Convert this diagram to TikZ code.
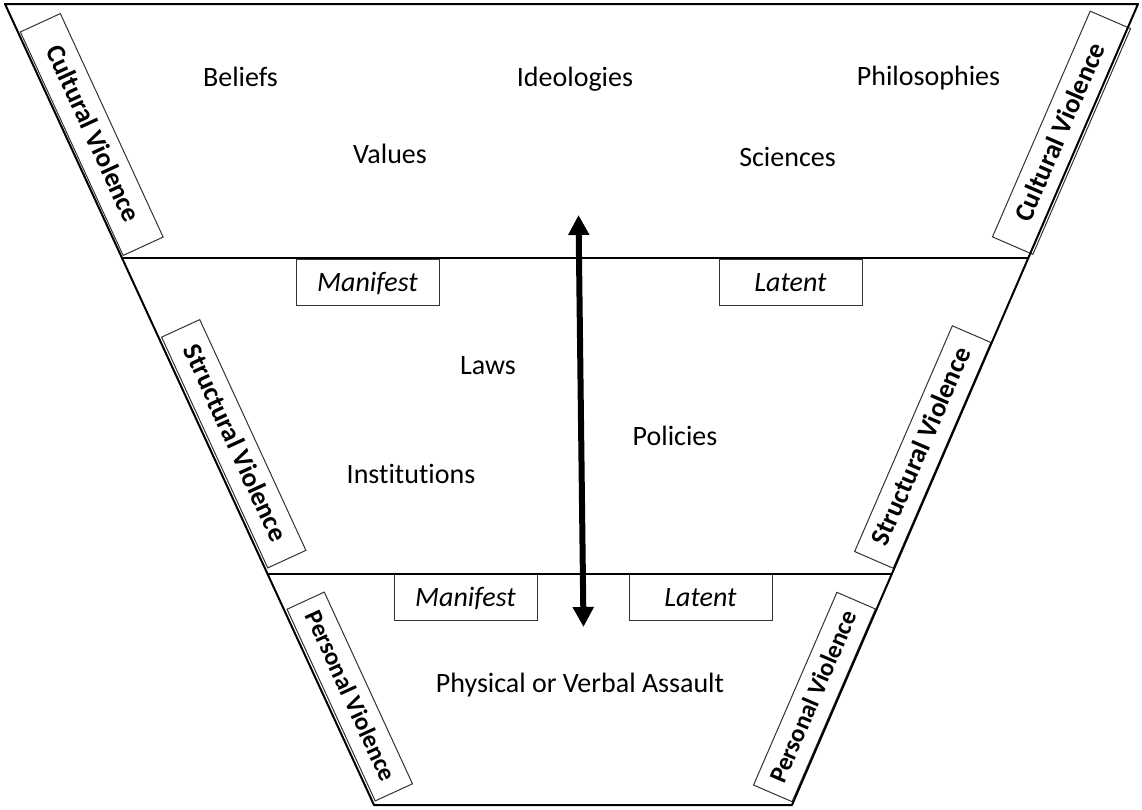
\documentclass[tikz,border=0pt]{standalone}
\usepackage{fontspec}
\setmainfont{Carlito}[Ligatures=NoCommon]
\usetikzlibrary{calc,arrows.meta}
\begin{document}
\begin{tikzpicture}[x=1pt,y=-1pt,
  word/.style={anchor=base,inner sep=0pt,font=\fontsize{28}{32}\selectfont},
  tag/.style={draw=black!80,line width=1pt,fill=white,minimum width=143pt,minimum height=46pt,
    inner sep=0pt,text height=19pt,text depth=0pt,font=\fontsize{28}{32}\selectfont\itshape},
  side/.style={draw=black!80,line width=1pt,fill=white,inner sep=0pt,text height=19pt,text depth=5pt},
  bigside/.style={side,font=\fontsize{27}{32}\selectfont\bfseries},
  smallside/.style={side,font=\fontsize{25}{30}\selectfont\bfseries},
  frame/.style={line width=2pt,line cap=round,line join=round}]
\useasboundingbox (0,0) rectangle (1142,809);
% corners of the funnel
\coordinate (TL) at (5,4);
\coordinate (TR) at (1138,4);
\coordinate (BR) at (792,805);
\coordinate (BL) at (374,805);
\coordinate (L1) at ($(TL)!0.3171!(BL)$);
\coordinate (R1) at ($(TR)!0.3171!(BR)$);
\coordinate (L2) at ($(TL)!0.7116!(BL)$);
\coordinate (R2) at ($(TR)!0.7116!(BR)$);
% side labels
\node[bigside,minimum width=246pt,minimum height=44pt,rotate=-65.3] (culL) at (91.75,134.5) {Cultural Violence};
\node[bigside,minimum width=246pt,minimum height=44pt,rotate=66.6] (culR) at (1061.5,132.75) {Cultural Violence};
\node[bigside,minimum width=254pt,minimum height=42pt,rotate=-65.3] (strL) at (233.75,443.75) {Structural Violence};
\node[bigside,minimum width=246pt,minimum height=42pt,rotate=66.6] (strR) at (922.75,447) {Structural Violence};
\node[smallside,minimum width=211pt,minimum height=41pt,rotate=-65.3] (perL) at (349.75,696.5) {Personal Violence};
\node[smallside,minimum width=210pt,minimum height=42pt,rotate=66.6] (perR) at (814.5,697) {Personal Violence};
% manifest / latent tags
\node[tag] (man1) at (367.5,282) {Manifest};
\node[tag] (lat1) at (790.5,282) {Latent};
\node[tag] (man2) at (465.5,597) {Manifest};
\node[tag] (lat2) at (700.5,597) {Latent};
% funnel outline and dividers
\draw[frame] (TL) -- (TR) -- (BR) -- (BL) -- cycle;
\draw[frame] (L1) -- (R1);
\draw[frame] (L2) -- (R2);
% words
\node[word] (beliefs) at (240.5,86) {Beliefs};
\node[word] (ideol) at (575,86) {Ideologies};
\node[word] (philo) at (928.5,85) {Philosophies};
\node[word] (values) at (390,163) {Values};
\node[word] (sci) at (787.5,166) {Sciences};
\node[word] (laws) at (488,374) {Laws};
\node[word] (pol) at (675,445) {Policies};
\node[word] (inst) at (411,483) {Institutions};
\node[word] (assault) at (580,692) {Physical or Verbal Assault};
% double arrow
\coordinate (atop) at (578.5,215);
\coordinate (abot) at (583.5,627);
\draw[line width=6pt,{Triangle[width=20pt,length=20pt]}-{Triangle[width=20pt,length=20pt]}] (atop) -- (abot);
\end{tikzpicture}
\end{document}
